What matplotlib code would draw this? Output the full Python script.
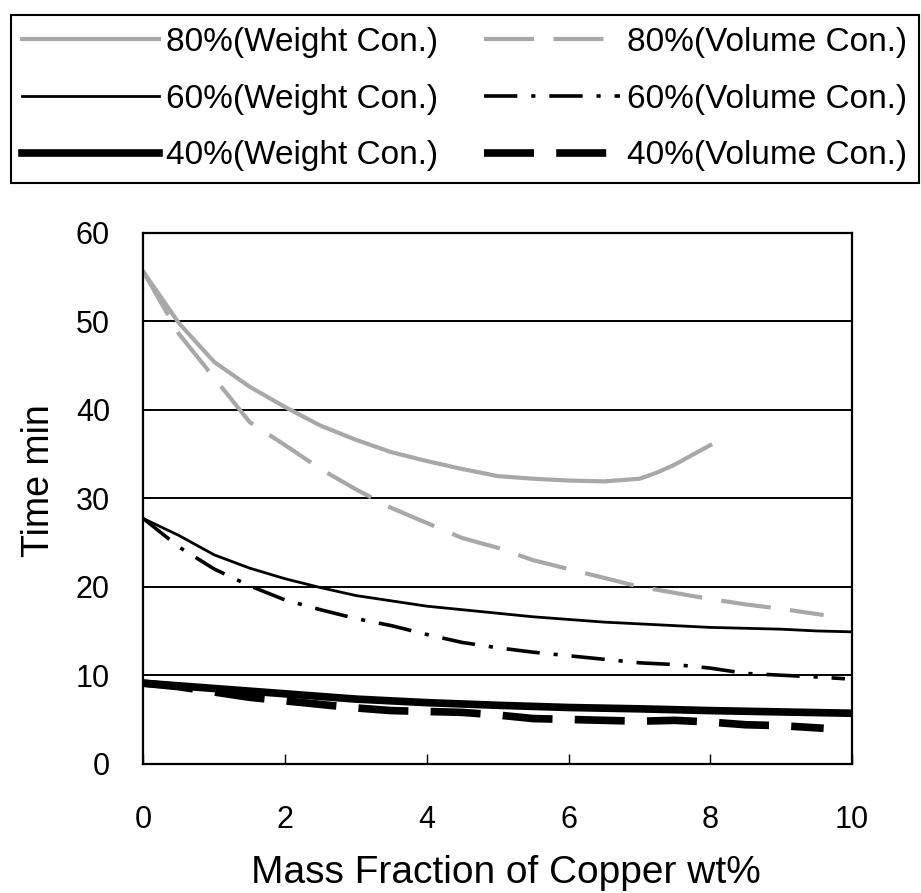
import matplotlib
matplotlib.use("Agg")
import matplotlib.pyplot as plt

# values (x = copper wt%, y = time in min)
x_80w = [0, 0.5, 1.0, 1.5, 2.0, 2.5, 3.0, 3.5, 4.0, 4.5, 5.0, 5.5, 6.0, 6.5, 7.0, 7.25, 7.5, 7.75, 8.0]
y_80w = [55.6, 49.8, 45.4, 42.6, 40.3, 38.2, 36.6, 35.2, 34.2, 33.3, 32.5, 32.2, 32.0, 31.9, 32.2, 32.9, 33.8, 34.9, 36.0]

x_80v = [0, 0.5, 1.0, 1.5, 2.0, 2.5, 3.0, 3.5, 4.0, 4.5, 5.0, 5.5, 6.0, 6.5, 7.0, 7.5, 8.0, 8.5, 9.0, 9.6]
y_80v = [55.6, 48.6, 43.6, 38.6, 36.0, 33.3, 31.0, 28.9, 27.2, 25.5, 24.4, 23.0, 22.0, 21.0, 20.0, 19.3, 18.6, 18.0, 17.5, 16.8]

x_60w = [0, 0.5, 1.0, 1.5, 2.0, 2.5, 3.0, 3.5, 4.0, 4.5, 5.0, 5.5, 6.0, 6.5, 7.0, 7.5, 8.0, 8.5, 9.0, 9.5, 10.0]
y_60w = [27.7, 25.8, 23.6, 22.1, 20.9, 19.9, 19.0, 18.4, 17.8, 17.4, 17.0, 16.6, 16.3, 16.0, 15.8, 15.6, 15.4, 15.3, 15.2, 15.0, 14.9]

x_60v = [0, 0.5, 1.0, 1.5, 2.0, 2.5, 3.0, 3.5, 4.0, 4.5, 5.0, 5.5, 6.0, 6.5, 7.0, 7.5, 8.0, 8.5, 9.0, 9.5, 9.9]
y_60v = [27.7, 24.5, 22.0, 20.1, 18.5, 17.4, 16.4, 15.6, 14.6, 13.7, 13.1, 12.6, 12.2, 11.8, 11.4, 11.2, 10.8, 10.2, 10.0, 9.8, 9.6]

x_40w = [0, 1.0, 2.0, 3.0, 4.0, 5.0, 6.0, 7.0, 8.0, 9.0, 10.0]
y_40w = [9.1, 8.5, 7.9, 7.3, 6.9, 6.6, 6.35, 6.2, 6.0, 5.85, 5.7]

x_40v = [0, 0.5, 1.0, 1.5, 2.0, 2.5, 3.0, 3.5, 4.0, 4.5, 5.0, 5.5, 6.0, 6.5, 7.0, 7.5, 8.0, 8.5, 9.0, 9.6]
y_40v = [9.1, 8.7, 8.1, 7.5, 7.1, 6.7, 6.3, 6.0, 5.9, 5.8, 5.5, 5.1, 5.0, 4.9, 4.8, 4.9, 4.7, 4.4, 4.3, 4.0]

labels_w = ['80%(Weight Con.)', '60%(Weight Con.)', '40%(Weight Con.)']
labels_v = ['80%(Volume Con.)', '60%(Volume Con.)', '40%(Volume Con.)']

plt.rcParams['font.family'] = ['Liberation Sans', 'DejaVu Sans']
plt.rcParams['lines.scale_dashes'] = False

fig = plt.figure(figsize=(9.21, 8.93), dpi=100)
ax = fig.add_axes([0.1556, 0.1448, 0.7695, 0.5946])

grey = '#a8a8a8'
l80w, = ax.plot(x_80w, y_80w, color=grey, lw=3.0)
l80v, = ax.plot(x_80v, y_80v, color=grey, lw=3.0, dashes=(36, 14))
l60w, = ax.plot(x_60w, y_60w, color='black', lw=2.0)
l60v, = ax.plot(x_60v, y_60v, color='black', lw=2.6, dashes=(24, 10, 3, 10))
l40w, = ax.plot(x_40w, y_40w, color='black', lw=5.5)
l40v, = ax.plot(x_40v, y_40v, color='black', lw=5.5, dashes=(36, 16))

ax.set_xlim(0, 10)
ax.set_ylim(0, 60)
ax.set_xticks([0, 2, 4, 6, 8, 10])
ax.set_yticks([0, 10, 20, 30, 40, 50, 60])
ax.yaxis.grid(True, color='black', lw=1.4)
ax.set_axisbelow(True)
for s in ax.spines.values():
    s.set_linewidth(1.6)
ax.tick_params(axis='x', direction='in', length=7, width=1.0, pad=30, labelsize=22)
ax.tick_params(axis='y', length=0, pad=24, labelsize=22)

ax.set_xlabel('Mass Fraction of Copper wt%', fontsize=28)
ax.xaxis.set_label_coords(0.511, -0.172)
ax.set_ylabel('Time min', fontsize=27)
ax.yaxis.set_label_coords(-0.122, 0.534)

handles = [l80w, l60w, l40w, l80v, l60v, l40v]
leg = fig.legend(handles, labels_w + labels_v, ncol=2, mode='expand',
                 loc='upper left', bbox_to_anchor=(0.0115, 0.983, 0.986, 0.0),
                 borderaxespad=0, fontsize=24, handlelength=4.1,
                 handletextpad=0.2, labelspacing=0.77, borderpad=0.35,
                 columnspacing=0.8, fancybox=False, edgecolor='black',
                 framealpha=1)
leg.get_frame().set_linewidth(1.5)

fig.savefig('out.png', dpi=100)
